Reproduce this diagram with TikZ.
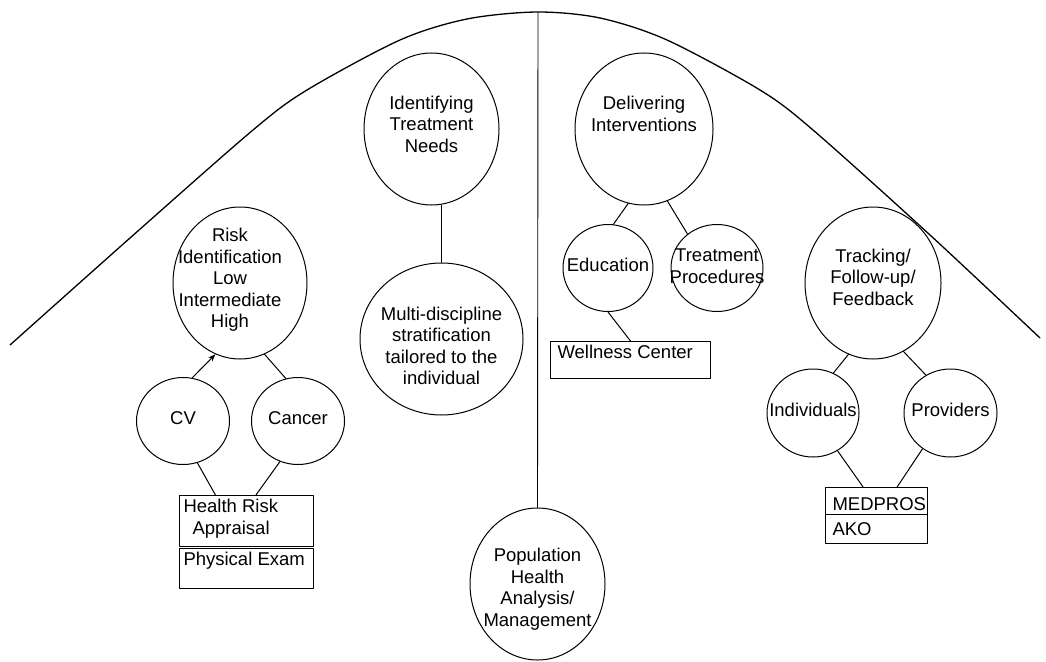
\documentclass[tikz,border=0pt]{standalone}
\usepackage{fontspec}
\setmainfont{Liberation Sans}
\usetikzlibrary{arrows.meta, calc, shapes.geometric}

\begin{document}
\begin{tikzpicture}[x=1pt, y=-1pt, >=Stealth, line width=1pt, line cap=round, line join=round,
    bubble/.style={draw, ellipse, inner sep=0pt},
    panel/.style={draw, rectangle, inner sep=0pt, anchor=north west},
    txt/.style={align=center, inner sep=0pt, font=\fontsize{18.5}{21.5}\selectfont},
    paneltext/.style={anchor=north west, align=left, inner sep=4pt, font=\fontsize{18.5}{21.5}\selectfont}]
    \useasboundingbox (0,0) rectangle (1046,661);

    % the bell curve and the middle line
    \draw[line width=1.3pt] plot[smooth, tension=0.5] coordinates {(10,345) (130,238) (253,130) (307,90) (400,40) (467,19)
        (537,12) (600,18) (667,40) (760,90) (813,130) (930,235) (1040,338)};
    \coordinate (apex) at (538,12);

    %--- left side: risk
    \node[bubble, minimum width=134, minimum height=152, label={[txt, xshift=-10, yshift=3]center:Risk\\Identification\\Low\\Intermediate\\High}] (risk) at (240,283) {};
    \node[bubble, minimum width=93, minimum height=87, label={[txt, yshift=3]center:CV}] (cv) at (183,421) {};
    \node[bubble, minimum width=93, minimum height=87, label={[txt, yshift=3]center:Cancer}] (cancer) at (298,421) {};
    \node[panel, minimum width=134, minimum height=51, label={[paneltext]north west:Health Risk\\\hspace*{9pt}Appraisal}] (hra) at (179,495) {};
    \node[panel, minimum width=134, minimum height=40, label={[paneltext]north west:Physical Exam}] (exam) at (179,548) {};

    %--- treatment needs
    \node[bubble, minimum width=135, minimum height=152, label={[txt, yshift=5]center:Identifying\\Treatment\\Needs}] (ident) at (431.5,129) {};
    \node[bubble, minimum width=163, minimum height=152, label={[txt, yshift=-7]center:Multi-discipline\\stratification\\tailored to the\\individual}] (multi) at (441.5,339) {};

    %--- bottom
    \node[bubble, minimum width=135, minimum height=152, label={[txt, yshift=-5]center:Population\\Health\\Analysis/\\Management}] (pop) at (537.5,584) {};

    %--- right side: interventions
    \node[bubble, minimum width=138, minimum height=152, label={[txt, yshift=15]center:Delivering\\Interventions}] (deliver) at (644,129) {};
    \node[bubble, minimum width=90, minimum height=87, label={[txt, yshift=3]center:Education}] (edu) at (608,268) {};
    \node[bubble, minimum width=92, minimum height=87, label={[txt, yshift=2]center:Treatment\\Procedures}] (treat) at (717,268) {};
    \node[panel, minimum width=160, minimum height=37, label={[paneltext, xshift=3]north west:Wellness Center}] (wellness) at (550,341) {};

    %--- tracking
    \node[bubble, minimum width=136, minimum height=152, label={[txt, yshift=6]center:Tracking/\\Follow-up/\\Feedback}] (track) at (873,283) {};
    \node[bubble, minimum width=92, minimum height=88, label={[txt, yshift=3]center:Individuals}] (indiv) at (813,413) {};
    \node[bubble, minimum width=93, minimum height=88, label={[txt, yshift=3]center:Providers}] (prov) at (950.5,413) {};
    \node[panel, minimum width=102, minimum height=27, label={[paneltext, anchor=west, xshift=3, yshift=-3]west:MEDPROS}] (medpros) at (825,487) {};
    \node[panel, minimum width=102, minimum height=29, label={[paneltext, anchor=west, xshift=3]west:AKO}] (ako) at (825,514) {};

    %--- connectors
    \draw[line width=0.9pt] (apex) -- (pop.north);
    \draw[->] (cv.78) -- (risk.-109);
    \draw (cancer.106) -- (risk.-71);
    \draw (cv.-71) -- ($(hra.north west)!0.27!(hra.north east)$);
    \draw (cancer.-114) -- ($(hra.north west)!0.57!(hra.north east)$);
    \draw (ident.south -| multi.north) -- (multi.north);
    \draw (deliver.-102) -- (edu.83);
    \draw (deliver.-72) -- (treat.131);
    \draw (edu.south) -- (wellness.north);
    \draw (track.-109) -- (indiv.63);
    \draw (track.-66) -- (prov.123);
    \draw (indiv.-57) -- ($(medpros.north west)!0.37!(medpros.north east)$);
    \draw (prov.-128) -- ($(medpros.north west)!0.70!(medpros.north east)$);

\end{tikzpicture}
\end{document}
